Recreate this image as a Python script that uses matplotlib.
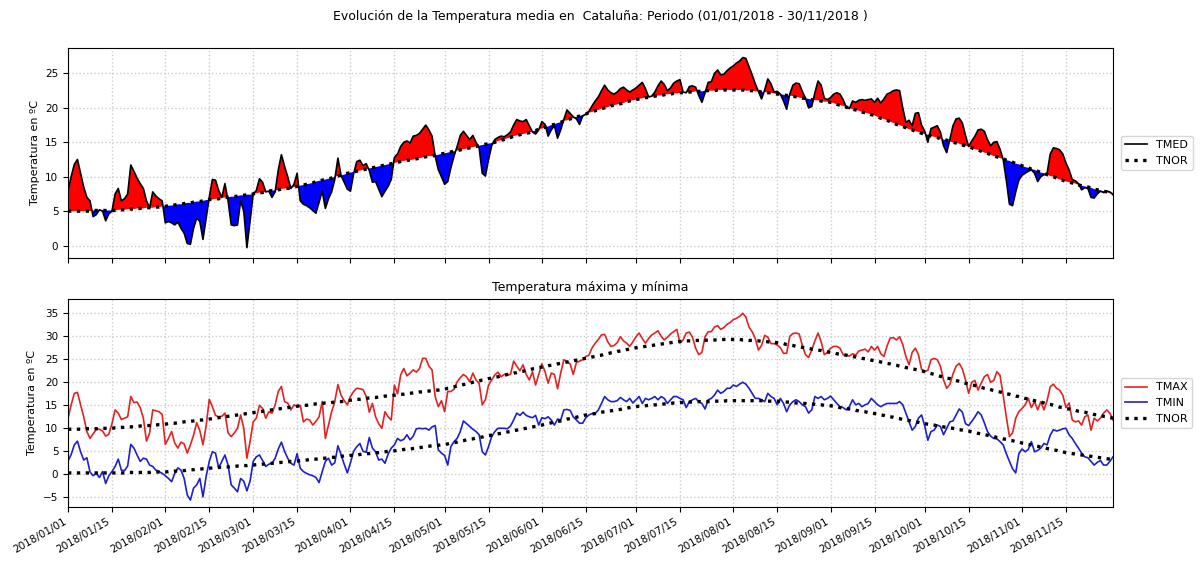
import matplotlib
matplotlib.use('Agg')
import matplotlib.pyplot as plt
import matplotlib.dates as mdates
import numpy as np
import pandas as pd

# Temperatura media diaria (TMED), un renglón por mes
tmed = [
    8.0, 10.0, 11.8, 12.5, 10.5, 8.5, 7.0, 6.5, 4.2, 4.5, 5.2, 5.0, 3.6, 4.6, 5.0, 7.5, 8.3, 6.5, 6.8, 7.5, 11.7, 10.8, 9.8, 9.0, 8.3, 6.5, 5.5, 7.8, 7.2, 6.8, 6.5,
    3.3, 3.5, 3.3, 3.0, 3.4, 2.5, 1.8, 0.3, 0.2, 2.5, 4.0, 3.5, 0.9, 4.0, 7.0, 9.6, 9.5, 8.0, 7.0, 9.0, 6.5, 3.0, 2.9, 3.0, 6.5, 5.0, -0.3, 3.5,
    7.5, 8.0, 9.7, 9.2, 7.8, 7.9, 7.0, 7.8, 11.0, 13.2, 11.5, 10.0, 8.3, 8.9, 10.5, 6.5, 6.0, 5.8, 5.5, 5.1, 4.7, 6.3, 7.9, 5.4, 6.8, 7.8, 9.6, 12.7, 10.2, 9.2, 8.2,
    7.9, 10.4, 12.2, 12.4, 11.6, 11.9, 10.9, 9.2, 9.3, 8.2, 7.1, 7.9, 8.6, 9.6, 12.8, 13.3, 14.4, 15.0, 15.2, 14.9, 15.9, 16.0, 16.3, 16.9, 17.5, 16.8, 15.9, 13.0, 11.0, 10.0,
    8.9, 9.3, 11.3, 13.0, 14.4, 16.0, 16.6, 16.0, 15.4, 16.0, 15.0, 14.2, 10.5, 10.1, 12.5, 14.5, 15.4, 15.7, 15.9, 15.8, 16.1, 16.5, 17.5, 18.3, 18.1, 18.0, 18.3, 17.4, 16.5, 16.2, 16.8,
    18.0, 17.6, 15.9, 16.8, 17.4, 15.6, 16.8, 18.3, 19.7, 19.2, 18.7, 18.4, 17.6, 18.8, 19.1, 19.5, 20.3, 21.0, 21.6, 22.5, 23.3, 22.6, 22.2, 22.0, 22.3, 22.8, 23.0, 22.6, 22.3, 22.6,
    22.9, 23.3, 23.7, 22.8, 21.6, 21.7, 22.3, 23.2, 23.9, 23.4, 22.5, 22.9, 23.6, 23.9, 24.1, 22.3, 22.2, 23.1, 23.2, 23.0, 21.8, 20.8, 22.2, 23.7, 23.8, 25.0, 25.5, 24.8, 24.9, 25.4, 25.8,
    26.1, 26.5, 26.8, 27.3, 27.2, 26.0, 24.8, 23.5, 22.4, 21.3, 22.6, 24.2, 23.5, 22.3, 22.4, 22.0, 21.0, 19.8, 22.0, 23.3, 23.6, 23.5, 22.4, 21.4, 20.0, 20.2, 22.2, 23.9, 23.3, 21.4, 21.2,
    21.5, 22.0, 22.2, 22.0, 21.2, 20.1, 19.9, 21.0, 20.8, 21.1, 21.2, 21.1, 21.2, 21.3, 20.8, 21.4, 20.7, 21.3, 22.0, 22.2, 22.5, 22.6, 22.5, 20.0, 17.9, 18.2, 17.4, 19.2, 19.3, 17.5,
    16.6, 15.0, 17.0, 17.2, 17.4, 16.5, 14.5, 13.5, 15.4, 17.4, 18.4, 18.5, 17.8, 16.0, 14.4, 15.2, 15.9, 16.8, 16.9, 16.6, 15.4, 14.5, 15.0, 15.1, 14.0, 12.5, 9.5, 6.0, 5.8, 7.8, 9.5,
    10.2, 10.5, 10.8, 11.0, 10.5, 9.3, 10.0, 10.3, 10.5, 13.3, 14.2, 14.1, 13.9, 13.3, 12.0, 11.0, 9.6, 9.4, 9.0, 8.1, 8.4, 8.3, 7.0, 6.9, 7.5, 7.9, 7.7, 7.9, 7.8, 7.4,
]

# Temperatura media normal (TNOR)
tnor = [
    5.0, 5.0, 5.0, 5.0, 5.0, 5.0, 5.0, 5.0, 5.1, 5.1, 5.1, 5.1, 5.1, 5.1, 5.1, 5.1, 5.2, 5.2, 5.2, 5.3, 5.3, 5.3, 5.4, 5.4, 5.4, 5.5, 5.5, 5.5, 5.6, 5.6, 5.7,
    5.7, 5.8, 5.8, 5.9, 6.0, 6.0, 6.1, 6.2, 6.2, 6.3, 6.4, 6.4, 6.5, 6.6, 6.7, 6.7, 6.8, 6.8, 6.9, 7.0, 7.0, 7.1, 7.1, 7.2, 7.3, 7.3, 7.4, 7.4,
    7.5, 7.6, 7.7, 7.7, 7.8, 7.9, 8.0, 8.0, 8.1, 8.2, 8.3, 8.3, 8.4, 8.5, 8.6, 8.7, 8.8, 8.9, 9.0, 9.1, 9.3, 9.4, 9.5, 9.6, 9.7, 9.8, 10.0, 10.1, 10.2, 10.3, 10.5,
    10.6, 10.7, 10.8, 10.9, 11.0, 11.1, 11.2, 11.3, 11.4, 11.5, 11.6, 11.7, 11.8, 11.9, 12.0, 12.1, 12.2, 12.3, 12.4, 12.4, 12.5, 12.6, 12.7, 12.8, 12.9, 13.0, 13.0, 13.1, 13.2, 13.3,
    13.4, 13.5, 13.6, 13.7, 13.8, 13.9, 14.0, 14.1, 14.2, 14.3, 14.4, 14.5, 14.6, 14.7, 14.8, 14.9, 15.0, 15.2, 15.3, 15.4, 15.6, 15.7, 15.9, 16.0, 16.1, 16.2, 16.3, 16.4, 16.6, 16.7, 16.9,
    17.0, 17.2, 17.3, 17.5, 17.6, 17.8, 17.9, 18.1, 18.2, 18.4, 18.5, 18.7, 18.8, 19.0, 19.1, 19.3, 19.4, 19.6, 19.7, 19.9, 20.0, 20.1, 20.3, 20.4, 20.5, 20.6, 20.7, 20.9, 21.0, 21.1,
    21.2, 21.3, 21.4, 21.5, 21.5, 21.6, 21.7, 21.8, 21.8, 21.9, 22.0, 22.0, 22.1, 22.1, 22.2, 22.2, 22.3, 22.3, 22.3, 22.4, 22.4, 22.4, 22.5, 22.5, 22.5, 22.5, 22.6, 22.6, 22.6, 22.6, 22.6,
    22.6, 22.6, 22.6, 22.6, 22.5, 22.5, 22.5, 22.4, 22.4, 22.3, 22.3, 22.2, 22.2, 22.1, 22.0, 22.0, 21.9, 21.8, 21.8, 21.7, 21.6, 21.5, 21.4, 21.4, 21.3, 21.2, 21.1, 21.1, 21.0, 20.9, 20.9,
    20.8, 20.7, 20.5, 20.4, 20.3, 20.1, 20.0, 19.8, 19.7, 19.6, 19.4, 19.3, 19.2, 19.0, 18.9, 18.7, 18.5, 18.4, 18.2, 18.0, 17.8, 17.6, 17.5, 17.3, 17.1, 16.9, 16.8, 16.6, 16.5, 16.3,
    16.2, 16.1, 15.9, 15.8, 15.7, 15.5, 15.4, 15.3, 15.1, 15.0, 14.9, 14.8, 14.6, 14.5, 14.4, 14.2, 14.0, 13.9, 13.7, 13.5, 13.4, 13.2, 13.0, 12.9, 12.7, 12.6, 12.4, 12.3, 12.1, 11.9, 11.8,
    11.6, 11.4, 11.3, 11.1, 11.0, 10.8, 10.6, 10.5, 10.3, 10.1, 10.0, 9.8, 9.6, 9.5, 9.3, 9.2, 9.1, 9.0, 8.8, 8.7, 8.6, 8.5, 8.4, 8.2, 8.1, 8.0, 7.9, 7.8, 7.6, 7.5,
]

# Temperatura máxima diaria (TMAX)
tmax = [
    12.2, 15.1, 17.6, 17.8, 15.1, 12.5, 9.3, 7.8, 8.8, 9.8, 9.8, 9.4, 8.3, 8.7, 11.0, 14.0, 13.3, 11.9, 12.2, 12.5, 16.9, 15.6, 15.7, 14.5, 12.2, 7.2, 9.0, 14.0, 13.8, 13.6, 13.0,
    6.5, 7.8, 9.3, 6.8, 5.7, 7.0, 6.6, 4.6, 6.4, 8.5, 11.2, 9.5, 6.4, 10.5, 16.3, 14.7, 12.8, 12.5, 12.6, 13.3, 9.0, 8.2, 9.0, 10.0, 12.9, 10.0, 3.5, 7.1,
    11.4, 12.2, 15.0, 14.3, 12.2, 13.6, 13.3, 15.1, 18.0, 19.1, 15.8, 15.5, 14.0, 15.1, 14.7, 15.0, 11.4, 12.0, 11.8, 10.7, 11.5, 12.5, 15.8, 7.8, 10.7, 13.6, 15.8, 19.5, 17.2, 16.0, 15.1,
    16.9, 18.0, 18.7, 18.6, 18.4, 17.0, 13.5, 15.4, 12.5, 11.0, 10.0, 13.6, 12.5, 11.8, 19.4, 17.5, 21.6, 23.0, 21.4, 22.0, 22.7, 22.2, 23.0, 25.2, 25.2, 23.5, 22.7, 16.9, 14.7, 16.0,
    13.6, 18.0, 18.0, 18.5, 20.1, 21.0, 21.7, 21.2, 20.1, 22.0, 20.5, 19.8, 15.1, 16.2, 19.4, 20.5, 21.6, 22.2, 21.2, 21.7, 21.6, 21.7, 24.6, 23.5, 22.5, 23.8, 21.7, 20.5, 22.3, 19.4, 21.7,
    24.0, 22.3, 19.8, 22.0, 21.7, 18.6, 22.0, 24.9, 24.5, 24.0, 21.7, 24.3, 24.6, 24.9, 25.6, 25.9, 27.5, 28.5, 29.3, 30.3, 30.4, 28.8, 27.8, 28.0, 28.6, 29.9, 29.0, 28.5, 27.8, 28.8,
    29.9, 30.7, 29.5, 28.5, 29.5, 30.3, 30.7, 31.2, 30.0, 29.2, 29.8, 30.5, 31.0, 31.5, 28.5, 29.2, 30.7, 30.9, 29.8, 27.4, 26.0, 26.5, 29.9, 31.0, 31.0, 32.0, 32.3, 31.5, 31.9, 32.6, 33.0,
    33.6, 33.9, 34.3, 35.0, 34.2, 32.0, 31.0, 29.5, 27.0, 28.0, 30.2, 29.8, 28.4, 28.4, 28.1, 27.5, 26.3, 26.3, 30.0, 30.6, 30.7, 30.5, 28.0, 26.0, 25.4, 27.0, 29.0, 30.7, 28.8, 26.0, 26.5,
    27.4, 27.8, 27.8, 27.4, 26.0, 25.8, 25.7, 26.2, 25.9, 26.8, 27.0, 27.2, 26.6, 27.8, 27.0, 27.8, 26.2, 25.6, 27.9, 29.6, 29.7, 29.2, 29.9, 28.2, 25.6, 23.8, 26.5, 27.4, 26.0, 22.8,
    22.3, 22.6, 24.9, 25.2, 24.9, 23.5, 20.5, 18.7, 19.5, 21.8, 23.5, 24.1, 22.9, 20.5, 17.6, 20.0, 20.4, 18.3, 19.8, 21.2, 21.7, 20.0, 20.4, 22.3, 21.5, 17.2, 12.5, 8.2, 9.0, 12.2, 13.6,
    14.3, 15.1, 16.5, 14.5, 15.8, 14.0, 15.8, 14.0, 16.0, 19.0, 19.6, 18.7, 18.3, 17.2, 14.5, 15.5, 11.8, 11.4, 11.6, 10.7, 12.5, 12.9, 9.6, 12.2, 11.6, 12.2, 13.3, 14.0, 13.3, 11.8,
]

# Temperatura mínima diaria (TMIN)
tmin = [
    2.9, 4.3, 6.4, 7.2, 4.9, 3.1, 3.6, 0.5, -0.3, 0.2, -0.7, 0.6, -2.0, -0.3, 0.6, 1.7, 3.3, 0.9, 0.8, 1.8, 6.5, 5.7, 4.2, 2.8, 3.5, 3.3, 2.0, 1.7, 0.9, 0.6, 0.2,
    -0.3, -0.9, -1.6, 0.2, 1.4, 0.9, -0.9, -4.5, -5.6, -3.0, -2.3, -0.9, -4.9, -0.5, 2.8, 4.9, 4.6, 1.4, 2.8, 4.2, 2.0, -2.3, -3.0, -3.8, -0.9, -1.5, -3.6, -1.5,
    2.8, 3.8, 4.2, 3.0, 1.7, 2.2, 2.4, 3.5, 5.5, 7.0, 5.0, 3.5, 2.4, 2.0, 4.5, 1.3, 0.6, 0.2, -0.1, -0.3, -0.7, -1.8, 0.6, 2.8, 3.5, 2.0, 2.5, 6.2, 4.3, 2.2, 0.3,
    2.5, 5.0, 6.0, 6.7, 5.0, 4.8, 8.0, 5.7, 4.9, 3.1, 3.3, 2.4, 4.4, 5.7, 6.4, 7.8, 7.3, 7.6, 8.6, 7.5, 8.3, 9.9, 10.0, 9.9, 10.0, 9.6, 10.3, 10.6, 5.3, 4.6,
    4.1, 2.0, 6.0, 7.1, 7.8, 9.3, 11.6, 11.0, 10.4, 9.8, 9.3, 8.6, 4.9, 4.2, 6.0, 8.2, 9.3, 10.0, 10.0, 10.0, 9.9, 10.5, 11.8, 13.3, 12.8, 13.5, 12.8, 12.5, 12.3, 12.8, 10.7,
    12.3, 12.1, 12.5, 11.8, 10.7, 12.0, 11.8, 14.0, 14.1, 13.9, 12.5, 11.8, 11.1, 11.1, 12.3, 12.9, 13.2, 13.2, 14.0, 15.4, 16.9, 16.2, 15.8, 15.8, 16.0, 16.7, 16.2, 15.8, 16.5, 15.5,
    16.2, 16.9, 15.4, 16.5, 16.2, 16.5, 16.9, 16.2, 16.9, 16.5, 15.4, 16.2, 16.9, 16.9, 16.5, 16.2, 14.5, 15.8, 16.2, 16.5, 15.8, 15.4, 14.2, 16.2, 16.5, 17.2, 18.3, 17.6, 18.0, 18.7, 18.7,
    19.4, 19.1, 19.6, 20.0, 19.6, 18.7, 17.6, 16.5, 16.5, 16.2, 15.8, 17.6, 16.9, 16.5, 15.1, 16.5, 15.4, 13.6, 15.1, 15.8, 16.2, 15.8, 15.1, 14.7, 13.3, 14.0, 16.9, 16.5, 16.9, 16.2, 16.5,
    17.0, 16.2, 15.4, 14.7, 14.5, 14.0, 14.7, 16.2, 15.1, 15.4, 14.7, 15.1, 15.4, 16.5, 15.8, 15.1, 14.7, 15.1, 15.4, 15.4, 15.4, 15.4, 15.8, 15.1, 13.3, 11.4, 9.6, 10.4, 12.2, 12.9,
    10.5, 7.4, 9.3, 9.6, 10.7, 10.4, 8.6, 10.0, 11.4, 11.6, 12.9, 14.2, 13.5, 11.0, 10.6, 11.5, 12.5, 13.6, 12.9, 11.2, 9.3, 8.3, 7.8, 7.7, 7.1, 6.4, 4.5, 2.8, 1.2, 0.3, 4.5,
    5.5, 4.9, 5.4, 7.1, 4.9, 5.2, 5.7, 6.7, 6.4, 8.5, 9.7, 9.4, 9.6, 9.9, 10.0, 8.6, 7.8, 6.7, 5.7, 4.6, 3.8, 3.6, 2.8, 2.0, 2.6, 3.0, 2.0, 2.0, 2.8, 3.8,
]

# Normal de la máxima
tnor_max = [
    9.8, 9.8, 9.8, 9.8, 9.8, 9.9, 9.9, 9.9, 9.9, 9.9, 9.9, 10.0, 10.0, 10.0, 10.0, 10.1, 10.1, 10.2, 10.2, 10.3, 10.3, 10.4, 10.4, 10.5, 10.5, 10.6, 10.6, 10.7, 10.7, 10.8, 10.8,
    10.9, 11.0, 11.1, 11.1, 11.2, 11.3, 11.4, 11.5, 11.5, 11.6, 11.7, 11.8, 11.8, 11.9, 12.0, 12.1, 12.2, 12.3, 12.4, 12.5, 12.6, 12.7, 12.8, 12.9, 13.0, 13.1, 13.2, 13.3,
    13.4, 13.5, 13.6, 13.7, 13.8, 13.9, 14.0, 14.1, 14.2, 14.3, 14.4, 14.5, 14.6, 14.7, 14.8, 14.9, 15.0, 15.0, 15.1, 15.2, 15.3, 15.3, 15.4, 15.5, 15.5, 15.6, 15.7, 15.8, 15.8, 15.9, 16.0,
    16.1, 16.2, 16.3, 16.3, 16.4, 16.5, 16.6, 16.7, 16.7, 16.8, 16.9, 17.0, 17.0, 17.1, 17.2, 17.3, 17.4, 17.4, 17.5, 17.6, 17.7, 17.8, 17.9, 17.9, 18.0, 18.1, 18.2, 18.3, 18.3, 18.4,
    18.5, 18.7, 18.8, 19.0, 19.2, 19.3, 19.5, 19.6, 19.8, 20.0, 20.1, 20.3, 20.5, 20.6, 20.8, 20.9, 21.1, 21.2, 21.4, 21.5, 21.7, 21.8, 22.0, 22.1, 22.3, 22.4, 22.6, 22.7, 22.9, 23.0, 23.2,
    23.3, 23.4, 23.6, 23.7, 23.8, 24.0, 24.1, 24.3, 24.4, 24.5, 24.7, 24.8, 24.9, 25.1, 25.2, 25.3, 25.5, 25.6, 25.8, 25.9, 26.1, 26.2, 26.4, 26.5, 26.7, 26.8, 26.9, 27.1, 27.2, 27.4,
    27.5, 27.6, 27.7, 27.8, 27.9, 28.0, 28.1, 28.2, 28.3, 28.4, 28.5, 28.6, 28.7, 28.8, 28.9, 28.9, 29.0, 29.0, 29.0, 29.1, 29.1, 29.1, 29.1, 29.2, 29.2, 29.2, 29.2, 29.3, 29.3, 29.3, 29.3,
    29.3, 29.3, 29.3, 29.2, 29.2, 29.1, 29.1, 29.0, 29.0, 28.9, 28.9, 28.8, 28.7, 28.7, 28.6, 28.5, 28.4, 28.2, 28.1, 28.0, 27.8, 27.7, 27.6, 27.5, 27.4, 27.2, 27.1, 27.0, 26.9, 26.7, 26.6,
    26.5, 26.4, 26.2, 26.1, 26.0, 25.9, 25.7, 25.6, 25.5, 25.3, 25.2, 25.1, 25.0, 24.8, 24.7, 24.6, 24.4, 24.3, 24.1, 24.0, 23.8, 23.7, 23.5, 23.4, 23.2, 23.1, 22.9, 22.8, 22.6, 22.5,
    22.3, 22.1, 21.9, 21.7, 21.5, 21.3, 21.1, 20.9, 20.8, 20.6, 20.4, 20.2, 20.0, 19.8, 19.6, 19.4, 19.3, 19.1, 18.9, 18.7, 18.6, 18.4, 18.2, 18.0, 17.9, 17.7, 17.5, 17.4, 17.2, 17.0, 16.9,
    16.7, 16.5, 16.4, 16.2, 16.0, 15.8, 15.7, 15.5, 15.3, 15.2, 15.0, 14.8, 14.6, 14.5, 14.3, 14.2, 14.0, 13.9, 13.7, 13.6, 13.5, 13.3, 13.2, 13.0, 12.9, 12.8, 12.6, 12.5, 12.3, 12.2,
]

# Normal de la mínima
tnor_min = [
    0.3, 0.3, 0.3, 0.3, 0.3, 0.3, 0.3, 0.3, 0.3, 0.3, 0.3, 0.3, 0.3, 0.3, 0.3, 0.3, 0.3, 0.3, 0.3, 0.4, 0.4, 0.4, 0.4, 0.4, 0.4, 0.4, 0.4, 0.5, 0.5, 0.5, 0.5,
    0.5, 0.6, 0.6, 0.7, 0.7, 0.8, 0.8, 0.9, 1.0, 1.0, 1.1, 1.1, 1.2, 1.2, 1.3, 1.4, 1.4, 1.5, 1.5, 1.6, 1.6, 1.7, 1.7, 1.8, 1.8, 1.9, 1.9, 2.0,
    2.0, 2.1, 2.1, 2.2, 2.3, 2.3, 2.4, 2.4, 2.5, 2.6, 2.6, 2.7, 2.8, 2.8, 2.9, 3.0, 3.0, 3.1, 3.2, 3.3, 3.3, 3.4, 3.5, 3.5, 3.6, 3.7, 3.7, 3.8, 3.9, 4.0, 4.0,
    4.1, 4.2, 4.2, 4.3, 4.4, 4.5, 4.5, 4.6, 4.7, 4.7, 4.8, 4.9, 5.0, 5.0, 5.1, 5.2, 5.3, 5.4, 5.5, 5.5, 5.6, 5.7, 5.8, 5.9, 6.0, 6.1, 6.2, 6.2, 6.3, 6.4,
    6.5, 6.6, 6.8, 6.9, 7.0, 7.2, 7.3, 7.5, 7.6, 7.7, 7.9, 8.0, 8.1, 8.3, 8.4, 8.5, 8.7, 8.8, 8.9, 9.1, 9.2, 9.3, 9.5, 9.6, 9.8, 9.9, 10.0, 10.2, 10.3, 10.4, 10.6,
    10.7, 10.9, 11.0, 11.2, 11.3, 11.5, 11.6, 11.8, 12.0, 12.1, 12.3, 12.4, 12.6, 12.7, 12.9, 13.0, 13.1, 13.2, 13.4, 13.5, 13.6, 13.7, 13.8, 13.9, 14.0, 14.1, 14.3, 14.4, 14.5, 14.6,
    14.7, 14.8, 14.8, 14.9, 15.0, 15.0, 15.1, 15.1, 15.2, 15.3, 15.3, 15.4, 15.5, 15.5, 15.6, 15.6, 15.7, 15.7, 15.7, 15.7, 15.8, 15.8, 15.8, 15.8, 15.8, 15.9, 15.9, 15.9, 15.9, 16.0, 16.0,
    16.0, 16.0, 16.0, 16.0, 16.0, 16.0, 16.0, 16.0, 16.0, 16.0, 16.0, 15.9, 15.9, 15.9, 15.9, 15.8, 15.8, 15.7, 15.7, 15.6, 15.5, 15.5, 15.4, 15.4, 15.3, 15.3, 15.2, 15.1, 15.1, 15.0, 15.0,
    14.9, 14.8, 14.7, 14.5, 14.4, 14.3, 14.2, 14.1, 13.9, 13.8, 13.7, 13.6, 13.4, 13.3, 13.2, 13.1, 12.9, 12.8, 12.6, 12.5, 12.4, 12.2, 12.1, 11.9, 11.8, 11.7, 11.5, 11.4, 11.3, 11.1,
    11.0, 10.9, 10.8, 10.7, 10.5, 10.4, 10.3, 10.2, 10.1, 10.0, 9.9, 9.7, 9.6, 9.5, 9.4, 9.2, 9.1, 8.9, 8.8, 8.6, 8.5, 8.3, 8.2, 8.0, 7.9, 7.7, 7.6, 7.4, 7.3, 7.1, 7.0,
    6.8, 6.7, 6.5, 6.4, 6.2, 6.1, 5.9, 5.8, 5.6, 5.5, 5.3, 5.2, 5.0, 4.9, 4.7, 4.6, 4.5, 4.4, 4.3, 4.2, 4.1, 4.0, 3.9, 3.8, 3.7, 3.6, 3.5, 3.4, 3.3, 3.2,
]

titulo = 'Evolución de la Temperatura media en  Cataluña: Periodo (01/01/2018 - 30/11/2018 )'
subtitulo = 'Temperatura máxima y mínima'
etiqueta_y = 'Temperatura en ºC'

fechas = pd.date_range('2018-01-01', '2018-11-30', freq='D')
tmed = np.array(tmed)
tnor = np.array(tnor)
tmax = np.array(tmax)
tmin = np.array(tmin)
tnor_max = np.array(tnor_max)
tnor_min = np.array(tnor_min)

fig = plt.figure(figsize=(12, 5.65), dpi=100)
fig.suptitle(titulo, fontsize=9, y=0.97, va='center')

ax1 = fig.add_axes([0.0567, 0.5434, 0.8708, 0.3717])
ax2 = fig.add_axes([0.0567, 0.1027, 0.8708, 0.3681], sharex=ax1)

# panel superior: media y normal, rojo por encima, azul por debajo
ax1.fill_between(fechas, tmed, tnor, where=tmed >= tnor, interpolate=True, color='red', lw=0)
ax1.fill_between(fechas, tmed, tnor, where=tmed < tnor, interpolate=True, color='blue', lw=0)
ax1.plot(fechas, tmed, color='black', lw=1.2, label='TMED')
ax1.plot(fechas, tnor, color='black', ls=':', lw=2.4, label='TNOR')
ax1.set_ylim(-1.8, 28.7)
ax1.set_yticks([0, 5, 10, 15, 20, 25])
ax1.set_ylabel(etiqueta_y, fontsize=8)
ax1.legend(loc='center left', bbox_to_anchor=(1.002, 0.5), fontsize=8)

# panel inferior: máxima y mínima con sus normales
ax2.plot(fechas, tmax, color='#e02424', lw=1.2, label='TMAX')
ax2.plot(fechas, tmin, color='#1f1fd0', lw=1.2, label='TMIN')
ax2.plot(fechas, tnor_max, color='black', ls=':', lw=2.4, label='TNOR')
ax2.plot(fechas, tnor_min, color='black', ls=':', lw=2.4)
ax2.set_ylim(-7.1, 38.1)
ax2.set_yticks([-5, 0, 5, 10, 15, 20, 25, 30, 35])
ax2.set_ylabel(etiqueta_y, fontsize=8)
ax2.set_title(subtitulo, fontsize=9)
ax2.legend(loc='center left', bbox_to_anchor=(1.002, 0.5), fontsize=8)

ax2.set_xlim(fechas[0], fechas[-1])
ax2.xaxis.set_major_locator(mdates.DayLocator(bymonthday=[1, 15]))
ax2.xaxis.set_major_formatter(mdates.DateFormatter('%Y/%m/%d'))
for lab in ax2.get_xticklabels():
    lab.set_rotation(30)
    lab.set_horizontalalignment('right')
ax1.tick_params(labelbottom=False)

for ax in (ax1, ax2):
    ax.grid(True, ls=':', color='0.8', lw=1.0)
    ax.set_axisbelow(True)
    ax.tick_params(labelsize=7.5)

fig.savefig('out.png', dpi=100)
